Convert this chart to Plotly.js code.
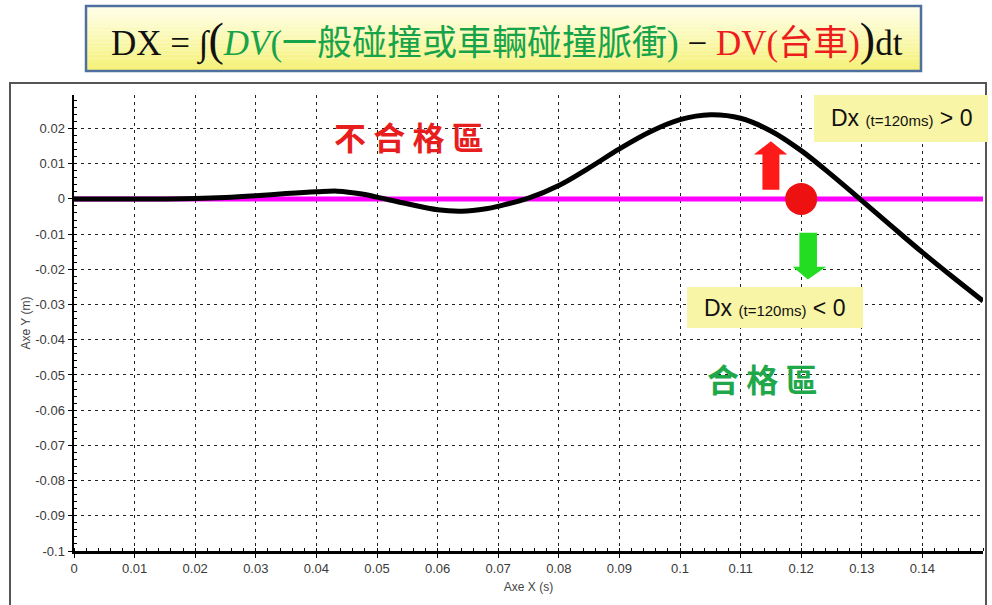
<!DOCTYPE html>
<html>
<head>
<meta charset="utf-8">
<script src="https://cdn.plot.ly/plotly-3.0.1.min.js"></script>
<style>
html,body{margin:0;padding:0;background:#fff;}
#chart{width:992px;height:605px;}
</style>
</head>
<body>
<div id="chart"></div>
<script>
// ---- data ----
const timeS = [0,0.005,0.01,0.015,0.02,0.025,0.03,0.035,0.04,0.0435,0.0475,0.05,0.055,0.06,0.064,0.068,0.07,0.075,0.08,0.085,0.09,0.095,0.1,0.105,0.11,0.115,0.12,0.125,0.13,0.135,0.14,0.145,0.15];
const dxM = [0,0,0,0,0.0001,0.0004,0.0009,0.0015,0.0020,0.0022,0.0014,0.0005,-0.0014,-0.0031,-0.0035,-0.0028,-0.0021,0.0002,0.0038,0.0088,0.0142,0.019,0.0225,0.0239,0.0229,0.0193,0.0137,0.0068,-0.0005,-0.0079,-0.0152,-0.0222,-0.029];
const zeroLineX = [0, 0.15];
const zeroLineY = [0, 0];
const checkT = [0.12];
const checkDx = [0];
const xTickVals = [0,0.01,0.02,0.03,0.04,0.05,0.06,0.07,0.08,0.09,0.1,0.11,0.12,0.13,0.14];
const xTickText = ["0","0.01","0.02","0.03","0.04","0.05","0.06","0.07","0.08","0.09","0.1","0.11","0.12","0.13","0.14"];
const yTickVals = [0.02,0.01,0,-0.01,-0.02,-0.03,-0.04,-0.05,-0.06,-0.07,-0.08,-0.09,-0.1];
const yTickText = ["0.02","0.01","0","-0.01","-0.02","-0.03","-0.04","-0.05","-0.06","-0.07","-0.08","-0.09","-0.1"];

// ---- layout helpers (pixel -> paper) ----
const W = 992, H = 605;
const M = {l:74, r:9, t:95, b:54};
const PW = W - M.l - M.r, PH = H - M.t - M.b;
const px = v => (v - M.l) / PW;
const py = v => (H - M.b - v) / PH;

const shapes = [];
// outer frame
shapes.push({type:'rect', xref:'paper', yref:'paper', x0:px(10), x1:px(986), y0:py(612), y1:py(83),
  line:{color:'#555', width:2}, fillcolor:'rgba(0,0,0,0)', layer:'below'});
// title box gradient
const nb = 16, boxTop = 6, boxBot = 71;
for (let i = 0; i < nb; i++) {
  const t = i / (nb - 1);
  const r = Math.round(255 - t * 10), g = Math.round(255 - t * 14), b = Math.round(232 - t * 110);
  shapes.push({type:'rect', xref:'paper', yref:'paper', x0:px(86), x1:px(921),
    y1:py(boxTop + (boxBot - boxTop) * i / nb), y0:py(boxTop + (boxBot - boxTop) * (i + 1) / nb),
    line:{width:0}, fillcolor:`rgb(${r},${g},${b})`});
}
shapes.push({type:'rect', xref:'paper', yref:'paper', x0:px(86), x1:px(921), y0:py(boxBot), y1:py(boxTop),
  line:{color:'#4f6f9f', width:2.5}, fillcolor:'rgba(0,0,0,0)'});
// annotation boxes
shapes.push({type:'rect', xref:'paper', yref:'paper', x0:px(814), x1:px(988), y0:py(142), y1:py(95),
  line:{width:0}, fillcolor:'#f8f5a6'});
shapes.push({type:'rect', xref:'paper', yref:'paper', x0:px(687), x1:px(863), y0:py(328), y1:py(287),
  line:{width:0}, fillcolor:'#f8f5a6'});
// arrows (data coords, around the check point)
const cx = checkT[0];
shapes.push({type:'path', xref:'x', yref:'y', fillcolor:'#ff1a1a', line:{width:0},
  path:`M ${cx-0.0064} 0.0026 L ${cx-0.0036} 0.0026 L ${cx-0.0036} 0.0126 L ${cx-0.0023} 0.0126 L ${cx-0.0050} 0.0164 L ${cx-0.0078} 0.0126 L ${cx-0.0064} 0.0126 Z`});
shapes.push({type:'path', xref:'x', yref:'y', fillcolor:'#22dd22', line:{width:0},
  path:`M ${cx-0.0003} -0.0096 L ${cx+0.0026} -0.0096 L ${cx+0.0026} -0.0193 L ${cx+0.0041} -0.0193 L ${cx+0.0011} -0.0229 L ${cx-0.0014} -0.0193 L ${cx-0.0003} -0.0193 Z`});

const annotations = [
  {xref:'paper', yref:'paper', x:px(507), y:py(40), showarrow:false, xanchor:'center', yanchor:'middle',
   font:{family:'Liberation Serif, Noto Sans CJK TC, serif', size:35, color:'#111'},
   text:'DX = ∫<span style="font-size:46px">(</span><span style="color:#17a34a"><i>DV</i>(一般碰撞或車輛碰撞脈衝)</span> − <span style="color:#ee1c1c">DV(台車)</span><span style="font-size:46px">)</span>dt'},
  {xref:'paper', yref:'paper', x:px(901), y:py(118), showarrow:false, xanchor:'center', yanchor:'middle',
   font:{family:'Liberation Sans, Arial, sans-serif', size:23, color:'#111'},
   text:'Dx <span style="font-size:15px">(t=120ms)</span> &gt; 0'},
  {xref:'paper', yref:'paper', x:px(774), y:py(308), showarrow:false, xanchor:'center', yanchor:'middle',
   font:{family:'Liberation Sans, Arial, sans-serif', size:23, color:'#111'},
   text:'Dx <span style="font-size:15px">(t=120ms)</span> &lt; 0'},
  {xref:'paper', yref:'paper', x:px(409), y:py(136), showarrow:false, xanchor:'center', yanchor:'middle',
   font:{family:'Noto Sans CJK TC, sans-serif', size:32, color:'#e81e1e', weight:'bold'},
   text:'不 合 格 區'},
  {xref:'paper', yref:'paper', x:px(762), y:py(378), showarrow:false, xanchor:'center', yanchor:'middle',
   font:{family:'Noto Sans CJK TC, sans-serif', size:32, color:'#1fa84a', weight:'bold'},
   text:'合 格 區'}
];

const traces = [
  {x:zeroLineX, y:zeroLineY, mode:'lines', line:{color:'#ff00ff', width:5}, hoverinfo:'skip'},
  {x:timeS, y:dxM, mode:'lines', line:{color:'#000', width:5, shape:'spline', smoothing:1}, hoverinfo:'skip'},
  {x:checkT, y:checkDx, mode:'markers', marker:{color:'#ee1111', size:32}, hoverinfo:'skip'}
];

const axisFont = {family:'Liberation Sans, Arial, sans-serif', size:13, color:'#3a3a3a'};
const layout = {
  width:W, height:H, margin:M, showlegend:false,
  paper_bgcolor:'#fff', plot_bgcolor:'#fff',
  xaxis:{range:[0,0.15], tickvals:xTickVals, ticktext:xTickText, tickfont:axisFont,
    showgrid:true, gridcolor:'#222', gridwidth:1, griddash:'3px,4px',
    zeroline:false, showline:true, linecolor:'#000', linewidth:2.5,
    ticks:'outside', ticklen:4, tickcolor:'#000',
    minor:{dtick:0.002, ticks:'inside', ticklen:3, tickcolor:'#000', showgrid:false},
    title:{text:'Axe X (s)', font:{family:'Liberation Sans, Arial, sans-serif', size:12, color:'#444'}, standoff:8},
    automargin:false},
  yaxis:{range:[-0.1,0.0295], tickvals:yTickVals, ticktext:yTickText, tickfont:axisFont,
    showgrid:true, gridcolor:'#222', gridwidth:1, griddash:'3px,4px',
    zeroline:false, showline:true, linecolor:'#000', linewidth:2.5,
    ticks:'outside', ticklen:4, tickcolor:'#000',
    minor:{dtick:0.002, ticks:'inside', ticklen:3, tickcolor:'#000', showgrid:false},
    title:{text:'Axe Y (m)', font:{family:'Liberation Sans, Arial, sans-serif', size:12, color:'#444'}, standoff:2},
    automargin:false},
  shapes:shapes, annotations:annotations
};
Plotly.newPlot('chart', traces, layout, {displayModeBar:false, staticPlot:true});
</script>
</body>
</html>
